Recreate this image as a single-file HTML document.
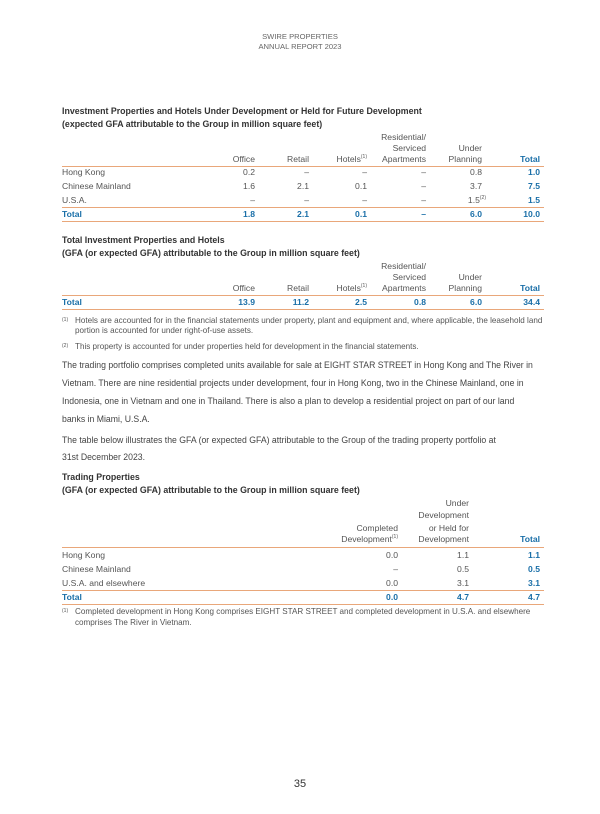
<!DOCTYPE html>
<html><head><meta charset="utf-8"><style>
body{margin:0;width:600px;height:814px;background:#fff;position:relative;font-family:"Liberation Sans",sans-serif;color:#444;overflow:hidden}
div{position:absolute;white-space:nowrap;line-height:12px}
.t{font-size:8.6px;color:#555}
.r{text-align:right}
.b{font-weight:bold;color:#1a6fa8}
.h{font-size:8.8px;font-weight:bold;color:#333;left:62px}
.ln{height:1.3px;background:#e9a77a;left:62px;width:482px}
.p{font-size:9.6px;color:#444;left:62px;transform:scaleX(0.905);transform-origin:0 0}
.f{font-size:8.1px;color:#555}
.fm{font-size:5px;color:#555;left:62px}
sup{font-size:5px;vertical-align:4px;line-height:0}
</style></head><body>
<div class="t" style="left:0;width:600px;text-align:center;top:31px;font-size:7.6px;color:#666">SWIRE PROPERTIES</div>
<div class="t" style="left:0;width:600px;text-align:center;top:41px;font-size:7.6px;color:#666">ANNUAL REPORT 2023</div>

<div class="h" style="top:105px">Investment Properties and Hotels Under Development or Held for Future Development</div>
<div class="h" style="top:118px">(expected GFA attributable to the Group in million square feet)</div>
<div class="t r" style="right:174px;top:131px">Residential/</div>
<div class="t r" style="right:174px;top:142px">Serviced</div>
<div class="t r" style="right:118px;top:142px">Under</div>
<div class="t r" style="right:345px;top:153px">Office</div>
<div class="t r" style="right:291px;top:153px">Retail</div>
<div class="t r" style="right:233px;top:153px">Hotels<sup>(1)</sup></div>
<div class="t r" style="right:174px;top:153px">Apartments</div>
<div class="t r" style="right:118px;top:153px">Planning</div>
<div class="t r b" style="right:60px;top:153px">Total</div>
<div class="ln" style="top:166px"></div>
<div class="t" style="left:62px;top:166px">Hong Kong</div>
<div class="t r" style="right:345px;top:166px">0.2</div><div class="t r" style="right:291px;top:166px">–</div><div class="t r" style="right:233px;top:166px">–</div><div class="t r" style="right:174px;top:166px">–</div><div class="t r" style="right:118px;top:166px">0.8</div><div class="t r b" style="right:60px;top:166px">1.0</div>
<div class="t" style="left:62px;top:180px">Chinese Mainland</div>
<div class="t r" style="right:345px;top:180px">1.6</div><div class="t r" style="right:291px;top:180px">2.1</div><div class="t r" style="right:233px;top:180px">0.1</div><div class="t r" style="right:174px;top:180px">–</div><div class="t r" style="right:118px;top:180px">3.7</div><div class="t r b" style="right:60px;top:180px">7.5</div>
<div class="t" style="left:62px;top:194px">U.S.A.</div>
<div class="t r" style="right:345px;top:194px">–</div><div class="t r" style="right:291px;top:194px">–</div><div class="t r" style="right:233px;top:194px">–</div><div class="t r" style="right:174px;top:194px">–</div><div class="t r" style="right:114px;top:194px">1.5<sup>(2)</sup></div><div class="t r b" style="right:60px;top:194px">1.5</div>
<div class="ln" style="top:207px"></div>
<div class="t b" style="left:62px;top:208px">Total</div>
<div class="t r b" style="right:345px;top:208px">1.8</div><div class="t r b" style="right:291px;top:208px">2.1</div><div class="t r b" style="right:233px;top:208px">0.1</div><div class="t r b" style="right:174px;top:208px">–</div><div class="t r b" style="right:118px;top:208px">6.0</div><div class="t r b" style="right:60px;top:208px">10.0</div>
<div class="ln" style="top:221px"></div>

<div class="h" style="top:234px">Total Investment Properties and Hotels</div>
<div class="h" style="top:247px">(GFA (or expected GFA) attributable to the Group in million square feet)</div>
<div class="t r" style="right:174px;top:260px">Residential/</div>
<div class="t r" style="right:174px;top:271px">Serviced</div>
<div class="t r" style="right:118px;top:271px">Under</div>
<div class="t r" style="right:345px;top:282px">Office</div>
<div class="t r" style="right:291px;top:282px">Retail</div>
<div class="t r" style="right:233px;top:282px">Hotels<sup>(1)</sup></div>
<div class="t r" style="right:174px;top:282px">Apartments</div>
<div class="t r" style="right:118px;top:282px">Planning</div>
<div class="t r b" style="right:60px;top:282px">Total</div>
<div class="ln" style="top:295px"></div>
<div class="t b" style="left:62px;top:296px">Total</div>
<div class="t r b" style="right:345px;top:296px">13.9</div><div class="t r b" style="right:291px;top:296px">11.2</div><div class="t r b" style="right:233px;top:296px">2.5</div><div class="t r b" style="right:174px;top:296px">0.8</div><div class="t r b" style="right:118px;top:296px">6.0</div><div class="t r b" style="right:60px;top:296px">34.4</div>
<div class="ln" style="top:309px"></div>

<div class="fm" style="top:314px">(1)</div>
<div class="f" style="left:75px;top:315px">Hotels are accounted for in the financial statements under property, plant and equipment and, where applicable, the leasehold land</div>
<div class="f" style="left:75px;top:325px">portion is accounted for under right-of-use assets.</div>
<div class="fm" style="top:340px">(2)</div>
<div class="f" style="left:75px;top:341px">This property is accounted for under properties held for development in the financial statements.</div>

<div class="p" style="top:360px">The trading portfolio comprises completed units available for sale at EIGHT STAR STREET in Hong Kong and The River in</div>
<div class="p" style="top:378px">Vietnam. There are nine residential projects under development, four in Hong Kong, two in the Chinese Mainland, one in</div>
<div class="p" style="top:396px">Indonesia, one in Vietnam and one in Thailand. There is also a plan to develop a residential project on part of our land</div>
<div class="p" style="top:414px">banks in Miami, U.S.A.</div>
<div class="p" style="top:435px">The table below illustrates the GFA (or expected GFA) attributable to the Group of the trading property portfolio at</div>
<div class="p" style="top:452px">31st December 2023.</div>

<div class="h" style="top:471px">Trading Properties</div>
<div class="h" style="top:484px">(GFA (or expected GFA) attributable to the Group in million square feet)</div>
<div class="t r" style="right:131px;top:497px">Under</div>
<div class="t r" style="right:131px;top:509px">Development</div>
<div class="t r" style="right:202px;top:522px">Completed</div>
<div class="t r" style="right:131px;top:522px">or Held for</div>
<div class="t r" style="right:202px;top:533px">Development<sup>(1)</sup></div>
<div class="t r" style="right:131px;top:533px">Development</div>
<div class="t r b" style="right:60px;top:533px">Total</div>
<div class="ln" style="top:547px"></div>
<div class="t" style="left:62px;top:549px">Hong Kong</div>
<div class="t r" style="right:202px;top:549px">0.0</div><div class="t r" style="right:131px;top:549px">1.1</div><div class="t r b" style="right:60px;top:549px">1.1</div>
<div class="t" style="left:62px;top:563px">Chinese Mainland</div>
<div class="t r" style="right:202px;top:563px">–</div><div class="t r" style="right:131px;top:563px">0.5</div><div class="t r b" style="right:60px;top:563px">0.5</div>
<div class="t" style="left:62px;top:577px">U.S.A. and elsewhere</div>
<div class="t r" style="right:202px;top:577px">0.0</div><div class="t r" style="right:131px;top:577px">3.1</div><div class="t r b" style="right:60px;top:577px">3.1</div>
<div class="ln" style="top:590px"></div>
<div class="t b" style="left:62px;top:591px">Total</div>
<div class="t r b" style="right:202px;top:591px">0.0</div><div class="t r b" style="right:131px;top:591px">4.7</div><div class="t r b" style="right:60px;top:591px">4.7</div>
<div class="ln" style="top:604px"></div>
<div class="fm" style="top:605px">(1)</div>
<div class="f" style="left:75px;top:606px">Completed development in Hong Kong comprises EIGHT STAR STREET and completed development in U.S.A. and elsewhere</div>
<div class="f" style="left:75px;top:617px">comprises The River in Vietnam.</div>

<div style="left:0;width:600px;text-align:center;top:778px;font-size:11px;color:#333">35</div>
</body></html>
